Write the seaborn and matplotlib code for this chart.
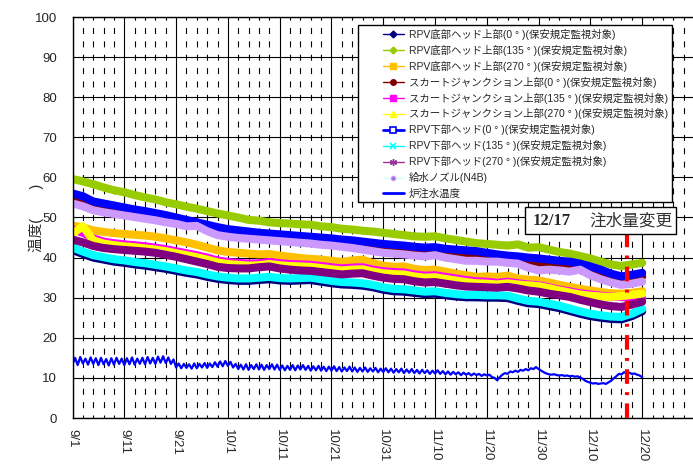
import numpy as np
import pandas as pd
import matplotlib
matplotlib.use("Agg")
import matplotlib.pyplot as plt
from matplotlib.lines import Line2D
from matplotlib.patches import Rectangle
import seaborn as sns

# ---- axis labels -------------------------------------------------------
tick_days = [0, 10, 20, 30, 40, 50, 60, 70, 80, 90, 100, 110, 120]
tick_labels = ["9/1", "9/11", "9/21", "10/1", "10/11", "10/21", "10/31",
               "11/10", "11/20", "11/30", "12/10", "12/20", "12/30"]
y_label = "温度(　　)"

# ---- measured temperatures (days after 9/1, sampled every 2 days) -------
days = list(range(0, 111, 2))

rpv_bottom_0 = [41.9, 40.9, 40.0, 39.5, 39.0, 38.7, 38.3, 38.0, 37.6, 37.2, 36.7, 36.2, 35.8, 35.2,
                34.7, 34.4, 34.2, 34.2, 34.4, 34.6, 34.3, 34.2, 34.3, 34.4, 34.0, 33.6, 33.3, 33.2,
                33.0, 32.6, 32.0, 31.6, 31.5, 31.2, 30.9, 31.0, 30.6, 30.3, 30.1, 30.1, 30.0, 30.0,
                29.9, 29.2, 28.6, 28.4, 27.9, 27.4, 26.7, 26.0, 25.4, 25.0, 24.7, 24.6, 25.4, 26.6]
rpv_bottom_135 = [59.6, 59.0, 58.3, 57.5, 56.8, 56.3, 55.6, 55.0, 54.5, 53.8, 53.3, 52.7, 52.2, 51.6,
                  51.0, 50.5, 50.0, 49.4, 49.2, 48.8, 48.6, 48.5, 48.3, 48.2, 47.8, 47.6, 47.2, 47.0,
                  46.7, 46.5, 46.2, 45.9, 45.6, 45.3, 45.2, 45.3, 44.8, 44.4, 44.0, 43.6, 43.4, 43.2,
                  43.0, 43.3, 42.5, 42.6, 42.0, 41.4, 41.0, 40.4, 39.8, 39.0, 38.3, 37.9, 38.3, 38.7]
rpv_bottom_270 = [48.0, 47.5, 46.8, 46.4, 46.1, 45.9, 45.7, 45.5, 45.2, 44.8, 44.3, 43.8, 43.2, 42.5,
                  41.8, 41.4, 41.2, 41.0, 40.8, 40.9, 40.5, 40.2, 39.9, 39.7, 39.5, 39.2, 38.9, 39.3,
                  39.5, 38.6, 38.0, 37.7, 37.8, 37.2, 36.9, 37.0, 36.5, 36.0, 35.6, 35.2, 35.3, 35.2,
                  35.5, 34.8, 34.5, 34.3, 33.8, 33.2, 32.7, 32.2, 31.8, 31.4, 31.1, 31.0, 31.2, 31.6]
skirt_0 = [55.1, 54.4, 53.1, 52.6, 52.1, 51.6, 51.1, 50.7, 50.2, 49.7, 49.1, 48.5, 47.9, 47.3,
           46.7, 46.2, 45.9, 45.6, 45.3, 45.1, 44.9, 44.7, 44.5, 44.3, 44.1, 43.9, 43.6, 43.4,
           43.1, 42.8, 42.5, 42.3, 42.1, 41.8, 41.6, 41.7, 41.3, 41.1, 40.9, 40.7, 40.3, 39.9,
           39.6, 39.4, 39.1, 38.9, 38.6, 38.3, 38.1, 37.6, 36.9, 36.1, 35.1, 34.4, 34.8, 35.3]
skirt_135 = [47.0, 46.2, 44.8, 44.0, 43.6, 43.3, 43.1, 42.8, 42.5, 42.1, 41.6, 41.1, 40.6, 40.0,
             39.3, 38.9, 38.7, 38.5, 38.6, 38.9, 38.6, 38.4, 38.3, 38.2, 37.9, 37.6, 37.3, 37.5,
             37.6, 37.0, 36.6, 36.4, 36.3, 35.8, 35.5, 35.6, 35.2, 34.8, 34.4, 34.1, 34.0, 33.7,
             34.0, 33.6, 33.3, 33.1, 32.6, 32.0, 31.6, 31.1, 30.8, 30.5, 30.3, 30.2, 29.9, 29.8]
skirt_270 = [46.0, 47.8, 44.3, 43.5, 43.1, 42.8, 42.6, 42.3, 42.0, 41.6, 41.1, 40.6, 40.1, 39.5,
             38.8, 38.4, 38.2, 38.0, 38.1, 38.4, 38.1, 37.9, 37.8, 37.7, 37.4, 37.1, 36.8, 37.0,
             37.1, 36.5, 36.1, 35.9, 35.8, 35.3, 35.0, 35.1, 34.7, 34.3, 33.9, 33.6, 33.5, 33.3,
             33.6, 33.3, 33.1, 32.9, 32.4, 31.8, 31.3, 30.8, 30.5, 30.3, 30.2, 30.4, 30.7, 31.0]
lower_head_0 = [56.0, 55.3, 54.0, 53.5, 53.0, 52.5, 52.0, 51.6, 51.1, 50.6, 50.0, 49.4, 48.8, 48.2,
                47.6, 47.1, 46.8, 46.5, 46.2, 46.0, 45.8, 45.6, 45.4, 45.2, 45.0, 44.8, 44.5, 44.3,
                44.0, 43.7, 43.4, 43.2, 43.0, 42.7, 42.5, 42.6, 42.2, 42.0, 41.8, 41.6, 41.2, 40.8,
                40.5, 40.3, 40.0, 39.8, 39.5, 39.2, 39.0, 38.5, 37.8, 37.0, 36.0, 35.3, 35.7, 36.2]
lower_head_135 = [42.5, 41.5, 40.6, 40.1, 39.6, 39.3, 38.9, 38.6, 38.2, 37.8, 37.3, 36.8, 36.4, 35.8,
                  35.3, 35.0, 34.8, 34.8, 35.0, 35.2, 34.9, 34.8, 34.9, 35.0, 34.6, 34.2, 33.9, 33.8,
                  33.6, 33.2, 32.6, 32.2, 32.1, 31.8, 31.5, 31.6, 31.2, 30.9, 30.7, 30.7, 30.6, 30.6,
                  30.5, 29.8, 29.2, 29.0, 28.5, 28.0, 27.3, 26.6, 26.0, 25.6, 25.3, 25.2, 26.0, 27.2]
lower_head_270 = [44.5, 43.8, 42.9, 42.4, 42.1, 41.9, 41.7, 41.5, 41.2, 40.7, 40.2, 39.6, 39.0, 38.4,
                  37.7, 37.4, 37.3, 37.3, 37.6, 37.8, 37.3, 37.0, 36.8, 36.7, 36.4, 36.1, 35.8, 36.0,
                  36.1, 35.5, 35.0, 34.7, 34.6, 34.1, 33.8, 33.9, 33.5, 33.1, 32.8, 32.7, 32.6, 32.5,
                  32.7, 32.3, 31.8, 31.5, 31.0, 30.6, 30.2, 29.5, 28.9, 28.3, 27.9, 27.7, 28.3, 29.0]
feedwater_nozzle = [53.5, 52.8, 51.8, 51.3, 50.9, 50.5, 50.1, 49.7, 49.3, 48.8, 48.4, 47.8, 47.9, 46.6,
                    45.6, 45.2, 44.9, 44.7, 44.5, 44.3, 44.1, 43.9, 43.7, 43.5, 43.2, 43.0, 42.7, 42.4,
                    42.0, 41.6, 41.2, 41.0, 40.8, 40.5, 40.3, 40.6, 40.0, 39.6, 39.2, 39.2, 39.0, 39.0,
                    38.7, 38.5, 37.5, 36.8, 37.0, 36.8, 36.5, 37.0, 35.6, 34.6, 33.8, 33.2, 33.5, 34.0]

# ---- injection water temperature (sampled every half day) ---------------
inj_days = list(np.arange(0, 110.5, 0.5))
injection_temp = [
    13.4, 15.0, 13.2, 15.2, 13.6, 14.8, 13.3, 15.1, 13.5, 14.9, 13.2, 15.0, 13.4, 14.7, 13.1, 14.9, 13.3, 15.0, 13.5, 14.8,
    13.2, 14.9, 13.4, 15.1, 13.3, 14.8, 13.5, 15.0, 13.4, 15.2, 13.6, 15.0, 13.5, 15.3, 13.8, 15.4, 13.7, 15.1, 13.5, 14.6,
    12.6, 13.6, 12.4, 13.5, 12.5, 13.4, 12.3, 13.6, 12.4, 13.5, 12.6, 13.7, 12.5, 13.6, 12.7, 13.9, 12.8, 14.1, 12.9, 14.2,
    13.0, 14.0, 12.6, 13.5, 12.2, 13.3, 12.1, 13.4, 12.0, 13.2, 12.2, 13.4, 12.1, 13.3, 12.0, 13.2, 12.2, 13.4, 12.1, 13.3,
    12.0, 13.1, 11.9, 13.0, 12.0, 13.2, 11.9, 13.1, 12.1, 13.2, 12.0, 13.0, 11.8, 12.9, 11.9, 13.0, 11.8, 12.8, 11.7, 12.8,
    11.8, 12.9, 11.7, 12.7, 11.6, 12.6, 11.7, 12.8, 11.6, 12.6, 11.5, 12.5, 11.6, 12.6, 11.5, 12.4, 11.6, 12.5, 11.4, 12.3,
    11.5, 12.4, 11.4, 12.3, 11.3, 12.2, 11.4, 12.3, 11.2, 12.1, 11.3, 12.2, 11.2, 12.0, 11.1, 12.0, 11.2, 11.9, 11.0, 11.8,
    11.1, 11.9, 11.0, 11.7, 10.9, 11.6, 10.8, 11.5, 10.9, 11.4, 10.7, 11.3, 10.8, 11.2, 10.6, 11.1, 10.7, 11.0, 10.5, 10.9,
    10.6, 10.8, 10.2, 10.0, 9.4, 10.2, 10.8, 11.2, 11.0, 11.6, 11.4, 11.8, 11.5, 12.0, 11.8, 12.2, 11.9, 12.4, 12.2, 12.7,
    12.2, 11.8, 11.4, 11.1, 10.9, 10.8, 10.9, 10.7, 10.6, 10.7, 10.5, 10.6, 10.4, 10.5, 10.3, 10.4, 10.1, 9.8, 9.3, 9.0,
    8.8, 8.6, 8.7, 8.5, 8.6, 8.7, 8.5, 8.9, 9.3, 9.9, 10.4, 11.0, 10.9, 11.4, 11.2, 11.3, 11.0, 11.1, 10.8, 10.6,
    10.2,
]

# ---- event annotation ---------------------------------------------------
change_day = 107
change_date = "12/17"
change_text = "注水量変更"

# ---- series definitions (drawing order = legend order) ------------------
series_names = [
    "RPV底部ヘッド上部(0 ° )(保安規定監視対象)",
    "RPV底部ヘッド上部(135 ° )(保安規定監視対象)",
    "RPV底部ヘッド上部(270 ° )(保安規定監視対象)",
    "スカートジャンクション上部(0 ° )(保安規定監視対象)",
    "スカートジャンクション上部(135 ° )(保安規定監視対象)",
    "スカートジャンクション上部(270 ° )(保安規定監視対象)",
    "RPV下部ヘッド(0 ° )(保安規定監視対象)",
    "RPV下部ヘッド(135 ° )(保安規定監視対象)",
    "RPV下部ヘッド(270 ° )(保安規定監視対象)",
    "給水ノズル(N4B)",
]
series_values = [rpv_bottom_0, rpv_bottom_135, rpv_bottom_270, skirt_0, skirt_135,
                 skirt_270, lower_head_0, lower_head_135, lower_head_270, feedwater_nozzle]
series_colors = ["#000080", "#99CC00", "#FFC000", "#800000", "#FF00FF",
                 "#FFFF00", "#0000FF", "#00FFFF", "#800080", "#CC99FF"]
injection_name = "炉注水温度"

# ---- style ---------------------------------------------------------------
sns.set_style("white")
plt.rcParams["font.family"] = ["Liberation Sans", "Noto Sans CJK JP", "DejaVu Sans"]
plt.rcParams["lines.scale_dashes"] = False

fig = plt.figure(figsize=(6.93, 4.69), dpi=100)
ax = fig.add_axes([72.5 / 693, 51 / 469, 621.5 / 693, 401 / 469])

# gridlines
ax.set_xlim(0, 120)
ax.set_ylim(0, 100)
ax.set_xticks(tick_days)
ax.set_xticks(list(range(0, 121, 2)), minor=True)
ax.set_yticks(list(range(0, 101, 10)))
ax.set_axisbelow(True)
ax.grid(True, which="major", axis="both", color="black", lw=0.8)
ax.grid(True, which="minor", axis="x", color="black", lw=0.8,
        linestyle=(2.15, (4.3, 5.32)))

# temperature bands
for name, vals, col in zip(series_names, series_values, series_colors):
    frame = pd.DataFrame({"day": days, "temp": vals})
    sns.lineplot(data=frame, x="day", y="temp", color=col, lw=5.8,
                 ax=ax, legend=False, solid_capstyle="round", solid_joinstyle="round")

inj_frame = pd.DataFrame({"day": inj_days, "temp": injection_temp})
sns.lineplot(data=inj_frame, x="day", y="temp", color="#0000FF", lw=1.6, ax=ax,
             legend=False)

# event marker
ax.vlines(change_day, 0, 46.0, colors="#FF0000", lw=3.0,
          linestyles=[(0, (10.5, 6.0, 2.1, 6.0))], zorder=5)
ax.add_patch(Rectangle((87.4, 46.0), 29.1, 6.5, facecolor="white",
                       edgecolor="black", lw=1.0, zorder=6))
ax.text(88.9, 49.25, change_date, fontsize=12, fontweight="bold",
        family=["Liberation Serif"], va="center", ha="left", zorder=7)
ax.text(99.9, 49.25, change_text, fontsize=12, color="#333333",
        family=["Noto Sans CJK JP"], va="center", ha="left", zorder=7)

# axes cosmetics
ax.set_xticklabels(tick_labels, rotation=270, fontsize=9.5)
ax.tick_params(axis="both", which="both", length=0)
ax.tick_params(axis="x", pad=8)
ax.tick_params(axis="y", labelsize=9.5, pad=11)
ax.set_xlabel("")
ax.set_ylabel(y_label, fontsize=10.5)
ax.yaxis.set_label_coords(-0.046, 0.5)
for sp in ax.spines.values():
    sp.set_color("black")
    sp.set_linewidth(1.0)

# legend: box drawn separately so the entries sit indented inside it
ax.add_patch(Rectangle((0.4594, 0.5387), 0.5052, 0.4414, transform=ax.transAxes,
                       facecolor="white", edgecolor="black", lw=1.0, zorder=7,
                       clip_on=False))
handles = [
    Line2D([], [], color="#000080", lw=1, marker="D", ms=3.5),
    Line2D([], [], color="#99CC00", lw=1, marker="D", ms=3.5),
    Line2D([], [], color="#FFC000", lw=1, marker="s", ms=4.5),
    Line2D([], [], color="#800000", lw=1, marker="o", ms=4),
    Line2D([], [], color="#FF00FF", lw=1, marker="s", ms=4.5),
    Line2D([], [], color="#FFFF00", lw=1, marker="^", ms=5),
    Line2D([], [], color="#0000FF", lw=2, marker="s", ms=4, mfc="white", mew=1.2),
    Line2D([], [], color="#00FFFF", lw=1, marker="x", ms=4.5, mew=1.2),
    Line2D([], [], color="#993399", lw=1, marker=(6, 2, 0), ms=5, mew=1.0),
    Line2D([], [], color="#CCFFFF", lw=1, marker="o", ms=3, mfc="#9966CC", mec="#CC99FF"),
    Line2D([], [], color="#0000FF", lw=2),
]
labels = series_names + [injection_name]
leg = ax.legend(handles, labels, loc="upper left",
                bbox_to_anchor=((383 - 72.5) / 621.5, (418 - 29) / 401),
                fontsize=7.5, frameon=False, handlelength=2.0, handletextpad=0.45,
                labelspacing=0.47, borderpad=0, borderaxespad=0)
leg.set_zorder(8)

fig.savefig("out.png", dpi=100)
